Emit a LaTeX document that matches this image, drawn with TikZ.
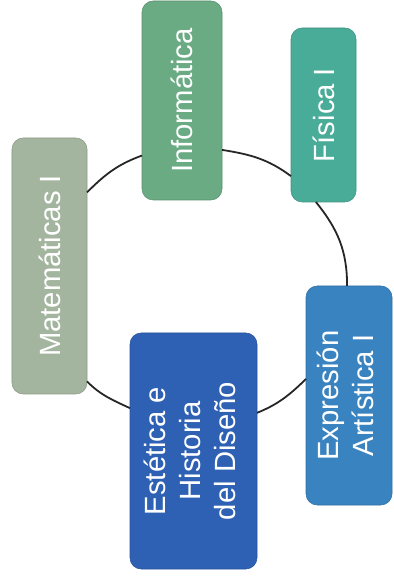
\documentclass[tikz,border=0pt]{standalone}
\usepackage{fontspec}
\setmainfont{Liberation Sans}
\usepackage{graphicx}
\definecolor{verdegris}{RGB}{164,181,159}
\definecolor{verdemedio}{RGB}{106,171,131}
\definecolor{turquesa}{RGB}{72,172,152}
\definecolor{azulclaro}{RGB}{57,131,192}
\definecolor{azuloscuro}{RGB}{46,97,180}
\begin{document}
\begin{tikzpicture}[x=0.25mm, y=0.25mm, caja/.style={rectangle, rounded corners=2.8mm, inner sep=0pt, outer sep=0pt, line width=0.4pt, text=white, font=\fontsize{20.8}{24.8}\selectfont}, enlace/.style={line width=0.45mm, black!85}]
        \useasboundingbox (0,0) rectangle (393,580);
        % asignaturas
        \node[caja, fill=verdegris, draw=verdegris!85!black, minimum width=18.75mm, minimum height=64mm] (mat) at (49.5, 314) {\rotatebox{90}{Matemáticas I}};
        \node[caja, fill=verdemedio, draw=verdemedio!85!black, minimum width=20mm, minimum height=49.75mm] (inf) at (182, 479.5) {\rotatebox{90}{Informática}};
        \node[caja, fill=turquesa, draw=turquesa!85!black, minimum width=16.25mm, minimum height=43.5mm] (fis) at (323.5, 465) {\rotatebox{90}{Física I}};
        \node[caja, fill=azulclaro, draw=azulclaro!85!black, minimum width=21.5mm, minimum height=54.75mm] (exp) at (349, 184.5) {\rotatebox{90}{\begin{tabular}{@{}c@{}}Expresión\\Artística I\end{tabular}}};
        \node[caja, fill=azuloscuro, draw=azuloscuro!85!black, minimum width=31.75mm, minimum height=59mm] (est) at (193.5, 129) {\rotatebox{90}{\begin{tabular}{@{}c@{}}Estética e\\Historia\\del Diseño\end{tabular}}};
        % ciclo
        \draw[enlace] (mat.63.4) to[out=45, in=200] (inf.234.5);
        \draw[enlace] (inf.309.6) to[out=-9, in=143.5] (fis.242.5);
        \draw[enlace] (fis.265.6) to[out=-51, in=90] (exp.91);
        \draw[enlace] (exp.159.9) to[out=224, in=22] (est.31.9);
        \draw[enlace] (est.146.2) to[out=155, in=-45] (mat.288.4);
    \end{tikzpicture}
\end{document}
